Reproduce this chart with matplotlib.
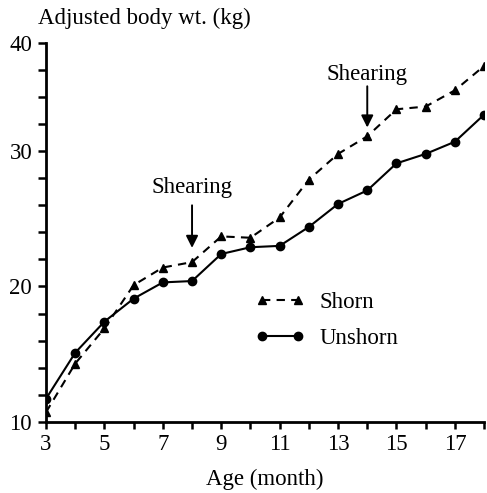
import numpy as np
import matplotlib.pyplot as plt

plt.rcParams['font.family'] = ['Liberation Serif', 'DejaVu Serif']

# data
age = [3, 4, 5, 6, 7, 8, 9, 10, 11, 12, 13, 14, 15, 16, 17, 18]
shorn = [10.7, 14.3, 16.9, 20.1, 21.4, 21.8, 23.7, 23.6, 25.1, 27.9, 29.8, 31.1, 33.1, 33.3, 34.5, 36.3]
unshorn = [11.7, 15.1, 17.4, 19.1, 20.3, 20.4, 22.4, 22.9, 23.0, 24.4, 26.1, 27.1, 29.1, 29.8, 30.7, 32.7]

xtick_labels = ['3', '5', '7', '9', '11', '13', '15', '17']
ytick_vals = [10, 20, 30, 38]
ytick_labels = ['10', '20', '30', '40']

# shearing marks: month, arrow tail, arrow tip, text y
shear_age = [8, 14]
shear_tail = [26.0, 34.8]
shear_tip = [22.85, 31.75]
shear_text = [27.3, 35.7]

fs = 16.5

fig = plt.figure(figsize=(4.87, 4.93), dpi=100)
ax = fig.add_axes([0.0945, 0.1446, 0.8995, 0.7682])

ax.plot(age, shorn, color='black', linestyle=(0, (4, 3)), linewidth=1.5,
        marker='^', markersize=6, label='Shorn')
ax.plot(age, unshorn, color='black', linestyle='-', linewidth=1.5,
        marker='o', markersize=6, label='Unshorn')

ax.set_xlim(3, 18)
ax.set_ylim(10, 38)

ax.set_xticks(range(3, 18, 2))
ax.set_xticklabels(xtick_labels)
ax.set_xticks(range(3, 19), minor=True)
ax.set_yticks(ytick_vals)
ax.set_yticklabels(ytick_labels)
ax.set_yticks(range(10, 39, 2), minor=True)

ax.tick_params(which='both', direction='out', width=1.8, labelsize=fs, pad=4)
ax.tick_params(axis='y', which='both', length=6)
ax.tick_params(axis='x', which='both', length=5)

for side in ['top', 'right']:
    ax.spines[side].set_visible(False)
for side in ['left', 'bottom']:
    ax.spines[side].set_linewidth(2)

# shearing arrows
for a, t0, t1, ty in zip(shear_age, shear_tail, shear_tip, shear_text):
    ax.annotate('', xy=(a, t1), xytext=(a, t0),
                arrowprops=dict(arrowstyle='-|>', color='black', lw=1.4,
                                mutation_scale=18, shrinkA=0, shrinkB=0))
    ax.text(a, ty, 'Shearing', ha='center', va='center', fontsize=fs)

ax.legend(loc='upper left', bbox_to_anchor=(0.435, 0.39), frameon=False,
          fontsize=fs, numpoints=2, handlelength=2.2, handletextpad=0.6,
          labelspacing=0.65, borderpad=0.3)

fig.text(0.078, 0.963, 'Adjusted body wt. (kg)', fontsize=fs, ha='left', va='center')
ax.set_xlabel('Age (month)', fontsize=fs, labelpad=10)

fig.savefig('out.png', dpi=100)
